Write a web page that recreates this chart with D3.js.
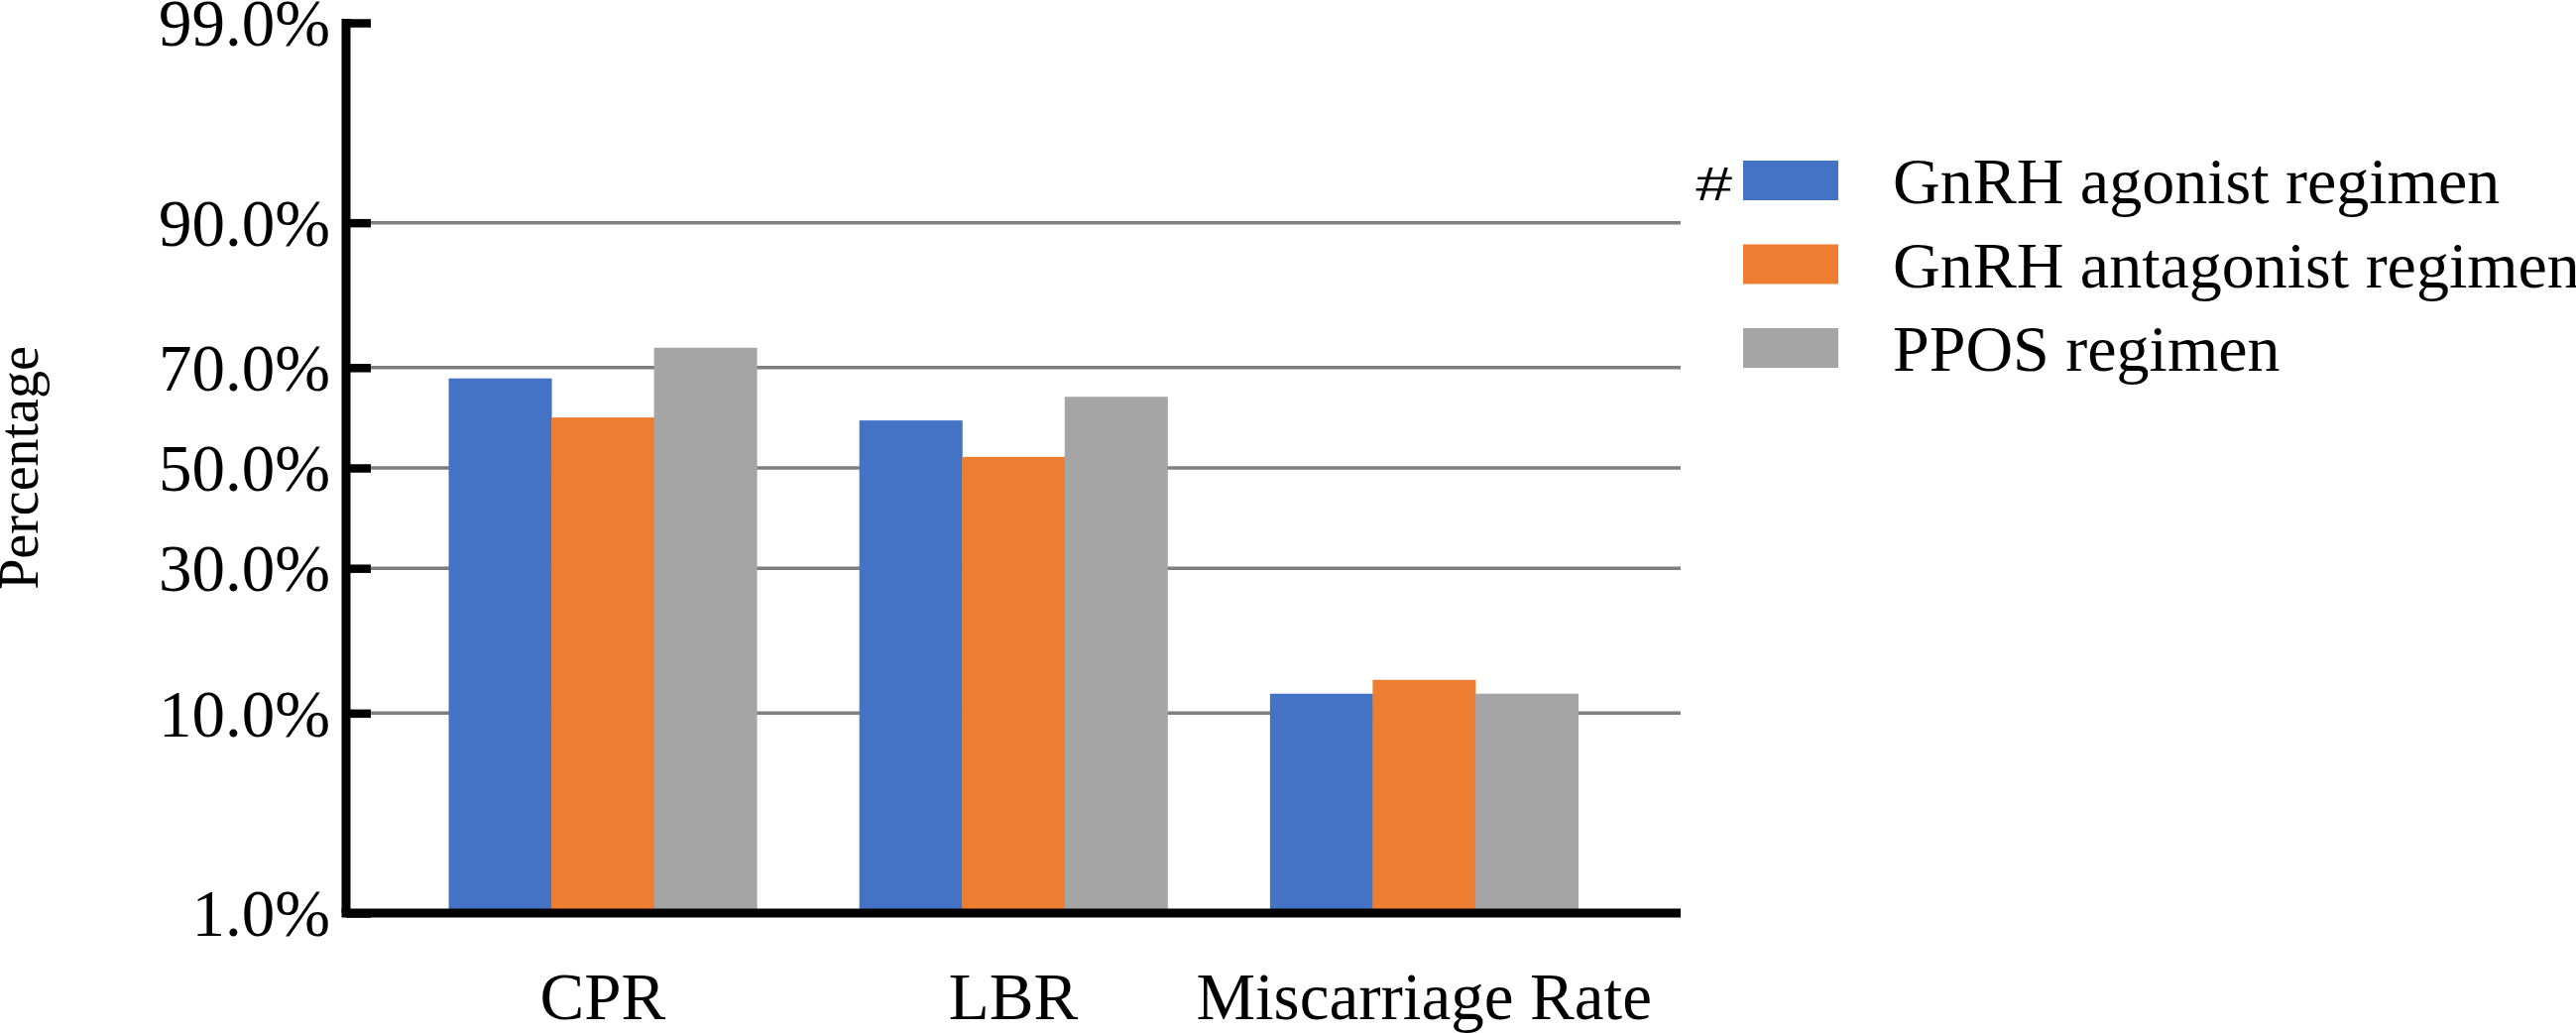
<!DOCTYPE html>
<html>
<head>
<meta charset="utf-8">
<script src="https://cdn.jsdelivr.net/npm/d3@7"></script>
<style>
  body { margin: 0; background: #fff; }
  text { font-family: "Liberation Serif", "Times New Roman", serif; fill: #000; }
</style>
</head>
<body>
<div id="chart"></div>
<script>
// categories and series
var categories = ["CPR", "LBR", "Miscarriage Rate"];
var seriesNames = ["GnRH agonist regimen", "GnRH antagonist regimen", "PPOS regimen"];
var agonist = [0.680, 0.598, 0.119];
var antagonist = [0.604, 0.523, 0.134];
var ppos = [0.735, 0.645, 0.119];
var seriesColors = ["#4472C4", "#ED7D31", "#A5A5A5"];
var yTicks = [0.01, 0.10, 0.30, 0.50, 0.70, 0.90, 0.99];
var yTickLabels = ["1.0%", "10.0%", "30.0%", "50.0%", "70.0%", "90.0%", "99.0%"];

var seriesValues = [agonist, antagonist, ppos];

// inverse normal cdf (Acklam) - the y axis is a probability (probit) scale
function probit(p) {
    var a = [-3.969683028665376e+01, 2.209460984245205e+02, -2.759285104469687e+02,
             1.383577518672690e+02, -3.066479806614716e+01, 2.506628277459239e+00];
    var b = [-5.447609879822406e+01, 1.615858368580409e+02, -1.556989798598866e+02,
             6.680131188771972e+01, -1.328068155288572e+01];
    var c = [-7.784894002430293e-03, -3.223964580411365e-01, -2.400758277161838e+00,
             -2.549732539343734e+00, 4.374664141464968e+00, 2.938163982698783e+00];
    var d = [7.784695709041462e-03, 3.224671290700398e-01, 2.445134137142996e+00,
             3.754408661907416e+00];
    var plow = 0.02425, phigh = 1 - plow, q, r;
    if (p < plow) {
        q = Math.sqrt(-2 * Math.log(p));
        return (((((c[0]*q+c[1])*q+c[2])*q+c[3])*q+c[4])*q+c[5]) /
               ((((d[0]*q+d[1])*q+d[2])*q+d[3])*q+1);
    }
    if (p > phigh) {
        q = Math.sqrt(-2 * Math.log(1 - p));
        return -(((((c[0]*q+c[1])*q+c[2])*q+c[3])*q+c[4])*q+c[5]) /
                ((((d[0]*q+d[1])*q+d[2])*q+d[3])*q+1);
    }
    q = p - 0.5;
    r = q * q;
    return (((((a[0]*r+a[1])*r+a[2])*r+a[3])*r+a[4])*r+a[5])*q /
           (((((b[0]*r+b[1])*r+b[2])*r+b[3])*r+b[4])*r+1);
}

var plotLeft = 349, plotRight = 1695, plotTop = 23, plotBottom = 921;

var svg = d3.select("#chart")
    .append("svg")
    .attr("width", 2598)
    .attr("height", 1042);

var x = d3.scaleBand()
    .domain(categories)
    .range([plotLeft, plotRight])
    .paddingInner(0.25)
    .paddingOuter(0.25);

var xSub = d3.scaleBand()
    .domain(d3.range(seriesNames.length))
    .range([0, x.bandwidth()]);

var y = d3.scaleLinear()
    .domain([probit(0.01), probit(0.99)])
    .range([plotBottom, plotTop]);

// gridlines
svg.append("g")
    .selectAll("line")
    .data(yTicks.filter(function(t) { return t > 0.01 && t < 0.99; }))
    .enter()
    .append("line")
    .attr("x1", plotLeft)
    .attr("x2", plotRight)
    .attr("y1", function(t) { return y(probit(t)); })
    .attr("y2", function(t) { return y(probit(t)); })
    .attr("stroke", "#7f7f7f")
    .attr("stroke-width", 3.5);

// bars
var groups = svg.append("g")
    .selectAll("g")
    .data(categories)
    .enter()
    .append("g")
    .attr("transform", function(c) { return "translate(" + x(c) + ",0)"; });

groups.selectAll("rect")
    .data(function(c, ci) {
        return seriesValues.map(function(vals, si) { return {s: si, v: vals[ci]}; });
    })
    .enter()
    .append("rect")
    .attr("x", function(d) { return xSub(d.s); })
    .attr("width", xSub.bandwidth() + 0.5)
    .attr("y", function(d) { return y(probit(d.v)); })
    .attr("height", function(d) { return plotBottom - y(probit(d.v)); })
    .attr("fill", function(d) { return seriesColors[d.s]; });

// y axis, ticks pointing inward
var yAxis = d3.axisLeft(y)
    .tickValues(yTicks.map(probit))
    .tickFormat(function(d, i) { return yTickLabels[i]; })
    .tickSizeInner(-25)
    .tickSizeOuter(0)
    .tickPadding(16);

var gy = svg.append("g")
    .attr("transform", "translate(" + plotLeft + ",0)")
    .call(yAxis);
gy.select(".domain").attr("stroke", "#000").attr("stroke-width", 9)
    .attr("d", "M0," + (plotTop - 4) + "V" + plotBottom);
gy.selectAll(".tick line").attr("stroke", "#000").attr("stroke-width", 8.5);
gy.selectAll(".tick text")
    .attr("font-family", "Liberation Serif, Times New Roman, serif")
    .attr("font-size", 67)
    .attr("dy", "0.34em");

// x axis
var xAxis = d3.axisBottom(x).tickSize(0).tickPadding(0);
var gx = svg.append("g")
    .attr("transform", "translate(0," + plotBottom + ")")
    .call(xAxis);
gx.select(".domain").attr("stroke", "#000").attr("stroke-width", 9)
    .attr("d", "M" + (plotLeft - 4.5) + ",0H" + plotRight);
gx.selectAll(".tick text")
    .attr("font-family", "Liberation Serif, Times New Roman, serif")
    .attr("font-size", 67)
    .attr("y", 107)
    .attr("dy", 0);

// y label
svg.append("text")
    .attr("transform", "translate(38,472) rotate(-90)")
    .attr("text-anchor", "middle")
    .attr("font-size", 56)
    .text("Percentage");

// legend
var legend = svg.append("g")
    .selectAll("g")
    .data(seriesNames)
    .enter()
    .append("g")
    .attr("transform", function(d, i) { return "translate(1758," + (182 + i * 84.5) + ")"; });

legend.append("rect")
    .attr("x", 0)
    .attr("y", -20)
    .attr("width", 96)
    .attr("height", 40)
    .attr("fill", function(d, i) { return seriesColors[i]; });

legend.append("text")
    .attr("x", 151)
    .attr("y", 23)
    .attr("font-size", 66)
    .text(function(d) { return d; });

svg.append("text")
    .attr("transform", "translate(1747,202) scale(1.35,1)")
    .attr("text-anchor", "end")
    .style("font-family", "Liberation Sans, Arial, sans-serif")
    .attr("font-size", 49)
    .text("#");
</script>
</body>
</html>
